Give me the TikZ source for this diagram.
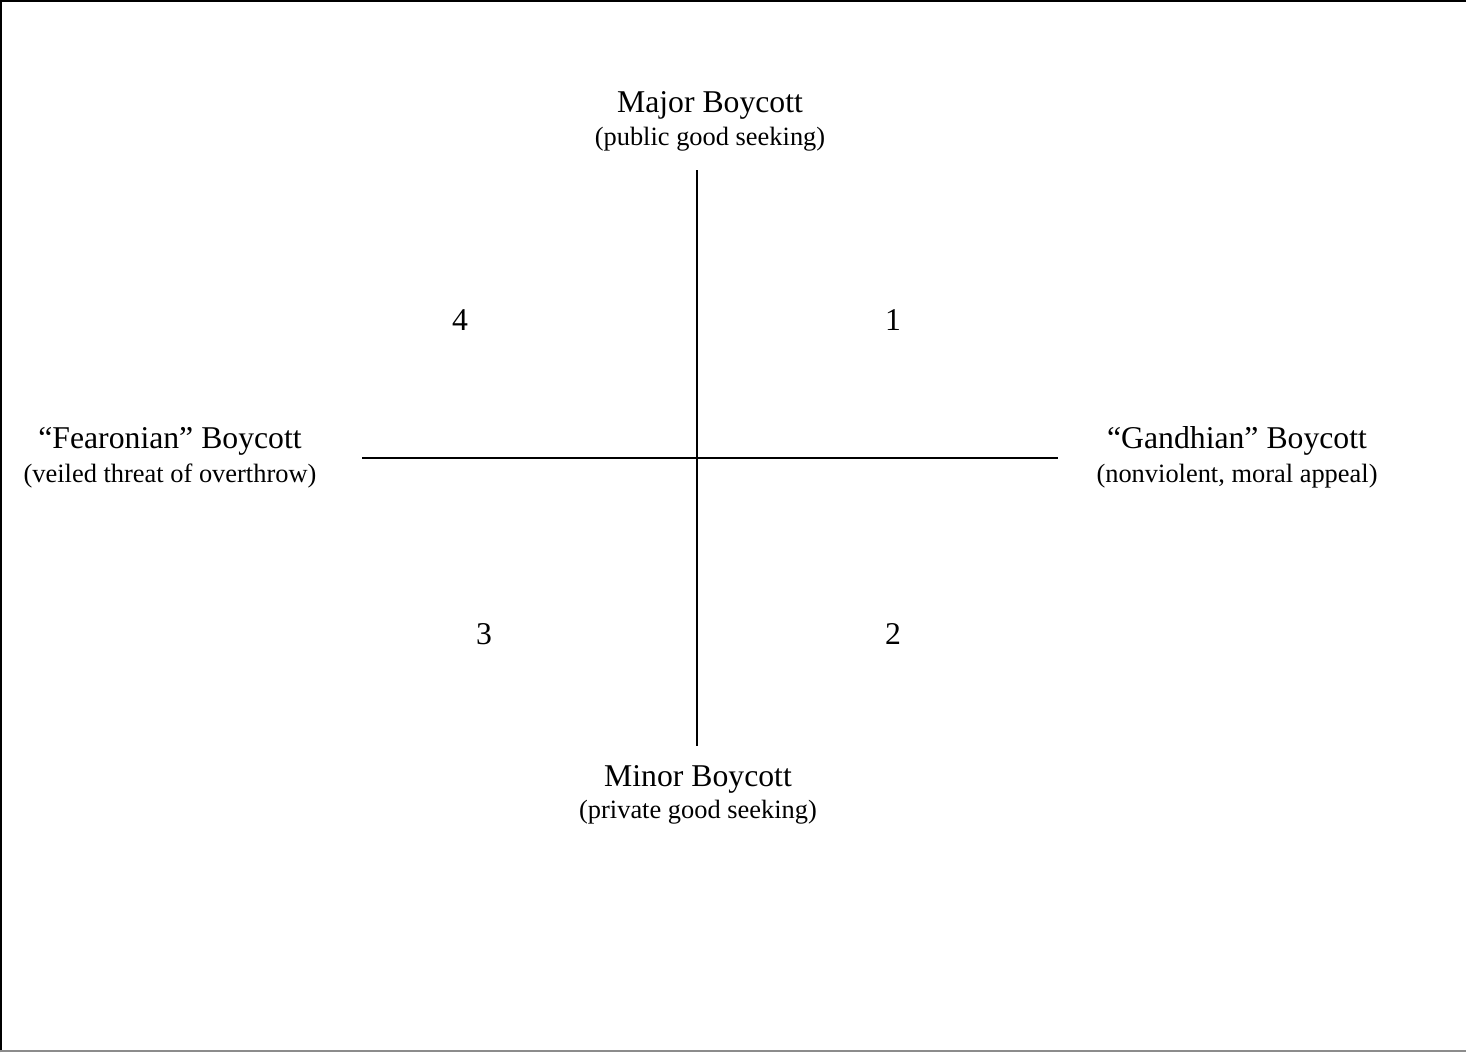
\documentclass[tikz,border=0pt]{standalone}
\usepackage{fontspec}
\setmainfont{Liberation Serif}

\begin{document}
\begin{tikzpicture}[x=0.3785pt,y=-0.3785pt,
        title/.style={anchor=base,inner sep=0pt,font=\fontsize{12}{14}\selectfont},
        sub/.style={anchor=base,inner sep=0pt,font=\fontsize{10}{12}\selectfont},
        num/.style={anchor=base,inner sep=0pt,font=\fontsize{12}{14}\selectfont}]
        \useasboundingbox (0,0) rectangle (1466,1052);

        % frame
        \draw[line width=0.8pt] (1,1052) -- (1,1) -- (1466,1);
        \draw[line width=0.75pt,black!45] (0,1051) -- (1466,1051);

        % axes
        \coordinate (top) at (697,170);
        \coordinate (bot) at (697,746);
        \coordinate (lft) at (362,458);
        \coordinate (rgt) at (1058,458);
        \draw[line width=0.75pt] (top) -- (bot);
        \draw[line width=0.75pt] (lft) -- (rgt);

        \node[title] (major) at (710,112) {Major Boycott};
        \node[sub] (majorsub) at (710,145) {(public good seeking)};

        \node[title] (minor) at (698,786) {Minor Boycott};
        \node[sub] (minorsub) at (698,818) {(private good seeking)};

        \node[title] (fear) at (170,448) {“Fearonian” Boycott};
        \node[sub] (fearsub) at (170,482) {(veiled threat of overthrow)};

        \node[title] (gand) at (1237,448) {“Gandhian” Boycott};
        \node[sub] (gandsub) at (1237,482) {(nonviolent, moral appeal)};

        \node[num] (q1) at (893,330) {1};
        \node[num] (q2) at (893,644) {2};
        \node[num] (q3) at (484,644) {3};
        \node[num] (q4) at (460,330) {4};

    \end{tikzpicture}
\end{document}
